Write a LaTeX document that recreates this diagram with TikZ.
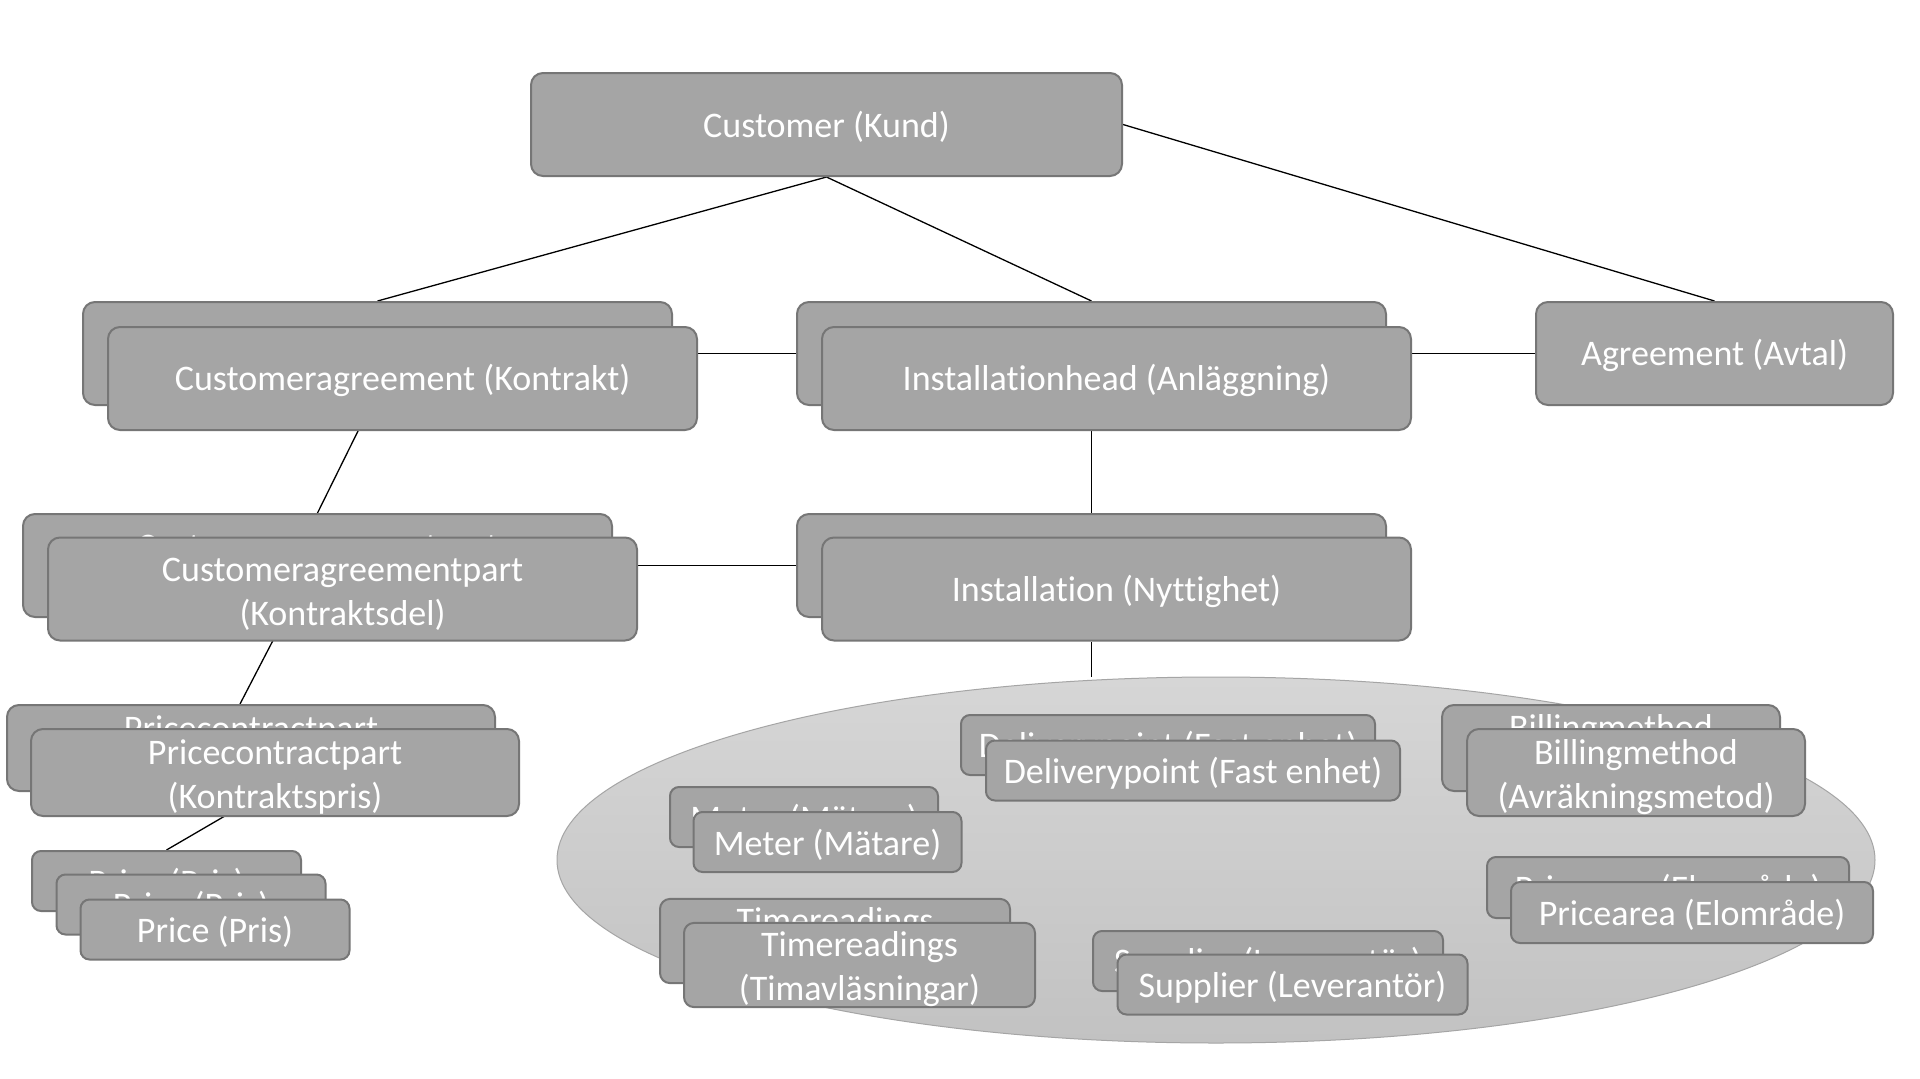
\documentclass[tikz,border=0pt]{standalone}
\usepackage{fontspec}
\setmainfont{Carlito}[Ligatures=NoCommon]
\usetikzlibrary{shapes.geometric,calc}
\pgfdeclarelayer{bg}
\pgfsetlayers{bg,main}
\definecolor{boxfill}{RGB}{165,165,165}
\definecolor{boxline}{RGB}{118,118,118}
\definecolor{elltop}{RGB}{214,214,214}
\definecolor{ellbot}{RGB}{194,194,194}
\definecolor{ellline}{RGB}{165,165,165}
\begin{document}
\begin{tikzpicture}[x=1pt,y=-1pt,
  box/.style={draw=boxline, fill=boxfill, line width=2pt, rounded corners=12pt,
    text=white, font=\fontsize{36}{44}\selectfont, align=center, inner sep=0pt,
    execute at begin node={\rule{0pt}{31pt}}},
  two/.style={execute at begin node={\rule{0pt}{78pt}}},
  big/.style={box, minimum width=589pt, minimum height=103pt},
  conn/.style={draw=black, line width=1.3pt}]
\begin{pgfonlayer}{bg}
\fill[white] (0,0) rectangle (1920,1079);
\end{pgfonlayer}
\useasboundingbox (0,0) rectangle (1920,1079);

% ellipse
\node[ellipse, draw=ellline, line width=1pt, top color=elltop, bottom color=ellbot,
      minimum width=1318pt, minimum height=366pt, inner sep=0pt] (ell) at (1216,860) {};

% top
\node[box, minimum width=591pt, minimum height=103pt] (cust) at (826.5,124.5) {Customer (Kund)};

% level 2
\node[big] (cab) at (377.5,353.5) {Customeragreement (Kontrakt)};
\node[big] (ca) at (402.5,378.5) {Customeragreement (Kontrakt)};
\node[big] (ihb) at (1091.5,353.5) {Installationhead (Anläggning)};
\node[big] (ih) at (1116.5,378.5) {Installationhead (Anläggning)};
\node[box, minimum width=357pt, minimum height=103pt] (agr) at (1714.5,353.5) {Agreement (Avtal)};

% level 3
\node[big, two] (capb) at (317.5,565.5) {Customeragreementpart\\(Kontraktsdel)};
\node[big, two] (cap) at (342.5,589) {Customeragreementpart\\(Kontraktsdel)};
\node[big] (inb) at (1091.5,565.5) {Installation (Nyttighet)};
\node[big] (in) at (1116.5,589) {Installation (Nyttighet)};

% left column
\node[box, two, minimum width=488pt, minimum height=86pt] (pcpb) at (251,748) {Pricecontractpart\\(Kontraktspris)};
\node[box, two, minimum width=488pt, minimum height=87pt] (pcp) at (275,772.5) {Pricecontractpart\\(Kontraktspris)};
\node[box, rounded corners=9pt, minimum width=269pt, minimum height=60pt] (pr1) at (166.5,881) {Price (Pris)};
\node[box, rounded corners=9pt, minimum width=269pt, minimum height=60pt] (pr2) at (191,904.5) {Price (Pris)};
\node[box, rounded corners=9pt, minimum width=269pt, minimum height=60pt] (pr3) at (215,929.5) {Price (Pris)};

% ellipse contents
\node[box, rounded corners=9pt, minimum width=414pt, minimum height=60pt] (dpb) at (1168,745) {Deliverypoint (Fast enhet)};
\node[box, rounded corners=9pt, minimum width=414pt, minimum height=60pt] (dp) at (1193,770.5) {Deliverypoint (Fast enhet)};
\node[box, two, minimum width=338pt, minimum height=86pt] (bmb) at (1611,748) {Billingmethod\\(Avräkningsmetod)};
\node[box, two, minimum width=338pt, minimum height=87pt] (bm) at (1636,772.5) {Billingmethod\\(Avräkningsmetod)};
\node[box, rounded corners=9pt, minimum width=268pt, minimum height=60pt] (meb) at (804,817) {Meter (Mätare)};
\node[box, rounded corners=9pt, minimum width=268pt, minimum height=60pt] (me) at (827.5,842) {Meter (Mätare)};
\node[box, rounded corners=9pt, minimum width=362pt, minimum height=61pt] (pab) at (1668,887.5) {Pricearea (Elområde)};
\node[box, rounded corners=9pt, minimum width=362pt, minimum height=61pt] (pa) at (1692,912.5) {Pricearea (Elområde)};
\node[box, two, rounded corners=10pt, minimum width=350pt, minimum height=82pt] (trb) at (835,941) {Timereadings\\(Timavläsningar)};
\node[box, two, rounded corners=10pt, minimum width=351pt, minimum height=84pt] (tr) at (859.5,965) {Timereadings\\(Timavläsningar)};
\node[box, rounded corners=9pt, minimum width=350pt, minimum height=60pt] (sub) at (1268,961) {Supplier (Leverantör)};
\node[box, rounded corners=9pt, minimum width=350pt, minimum height=60pt] (su) at (1292.5,984.5) {Supplier (Leverantör)};

% connectors
\begin{pgfonlayer}{bg}
\draw[conn] (cust.south) -- (cab.north);
\draw[conn] (cust.south) -- (ihb.north);
\draw[conn] (cust.east) -- (agr.north);
\draw[conn] (ca.east |- ihb.west) -- (ihb.west);
\draw[conn] (ih.east |- agr.west) -- (agr.west);
\draw[conn] ([xshift=-43pt,yshift=3pt]ca.south) -- (capb.north);
\draw[conn] (ih.south -| ihb.north) -- (inb.north);
\draw[conn] (cap.east |- inb.west) -- (inb.west);
\draw[conn] ([xshift=-68pt,yshift=4pt]cap.south) -- ([xshift=-11pt]pcpb.north);
\draw[conn] ([xshift=-45pt,yshift=4pt]pcp.south) -- (pr1.north);
\draw[conn] (in.south -| inb.north) -- (ell.north -| inb.north);
\end{pgfonlayer}
\end{tikzpicture}
\end{document}
